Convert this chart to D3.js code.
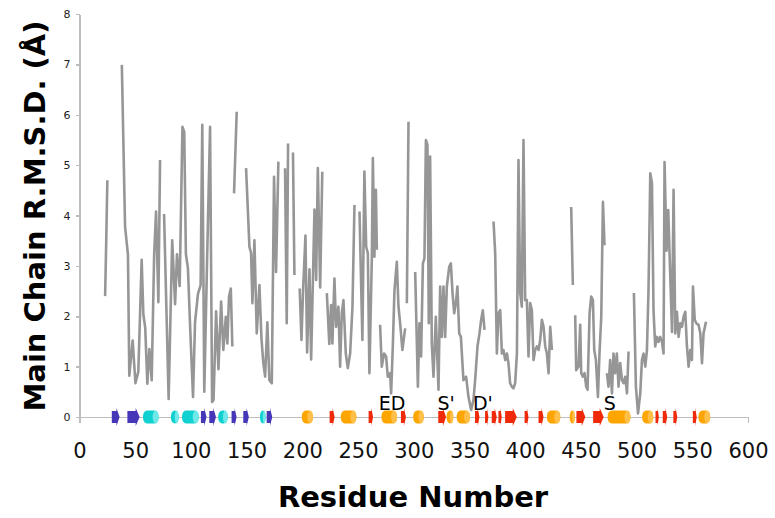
<!DOCTYPE html>
<head>
<meta charset="utf-8">
<script src="https://d3js.org/d3.v7.min.js"></script>
<style>
body{ margin:0; background:#fff; }
text{ font-family: "DejaVu Sans", Verdana, sans-serif; }
.yAxis text{ font-size:11px; fill:#222; }
.xAxis text{ font-size:21px; fill:#111; }
.axis path.domain, .axis .tick line{ stroke:#bdbdbd; stroke-width:1.5px; shape-rendering:crispEdges; }
text.axisTitle{ font-size:29px; font-weight:700; fill:#000; }
text.ssLabel{ font-size:19px; fill:#000; }
</style>
</head>
<body>
<script>
const width = 775, height = 518;
const margin = {top: 14, right: 27, bottom: 101, left: 79.5};

// residue number / main chain rmsd (null = gap in the trace)
const residues = [
  23,24,25,25.5,
  38,40.9,43.5,44.7,47.7,50.2,52.8,55.8,57.3,59,60.9,62.7,64.8,67,68.7,70.8,72.3,73,
  75.9,80,83.2,85.8,87.5,89.9,92.4,94,95.5,97.3,99.5,101.9,103.7,106.3,108.7,110.2,112,114.6,117.2,119,120.3,122.6,124.7,127.1,129.1,131.3,132.7,134.2,135.8,137.2,138,
  138.7,141.1,142,
  149.5,152.5,154,155.2,157,159.1,161.5,163.3,165,166.6,168.6,170.4,172.6,174.6,176.4,178.5,180,
  184.5,186,187.2,188,
  191.6,192.9,194,
  197.6,199.2,200.7,202.8,204.3,206.4,207.9,210.9,212.4,213.9,216,217.9,219,
  222,224.2,225.8,227,228.8,230.3,232.4,233.9,235.4,236.9,239,240.8,242.9,245,246.8,248,
  251.3,253.9,255.7,257.3,258.8,260.2,262.4,263.3,264.7,266,266.9,268,
  269.8,271.3,273.4,275.2,276.7,278.8,279.7,281.2,282.7,284.8,286.3,287.8,289.8,292.3,293,
  293.8,295.3,296,
  301.3,303.7,305.1,306.6,308.2,309.6,310.9,312.3,313.5,314.7,316.2,317.7,319.8,322.2,323.7,325.2,326.7,328.2,329.7,331.8,333.3,334.8,336.3,337.8,339.2,340.8,342.3,344.6,347,349.1,351.5,353.6,355.1,357.2,359,360.5,362,363.5,365,
  371.6,373.1,374.6,376,377.6,379.1,380.5,382.1,383.6,385,386.5,388.1,389.5,391,392.6,394,395.5,397,398.5,400,401.5,403,404.5,406,407.5,409,410.5,412,413.5,415,416.5,418,419.5,421,422.5,424,425,
  441.3,442.8,443.5,
  444.9,445.8,447.9,449.4,450.3,451.8,453.3,454.8,456,457.8,459.3,460.8,462,463.5,465.3,466.7,468.3,469.8,471.2,472,
  473.4,474.8,476.3,477.9,479.3,480.8,482.3,483.8,485.3,486.9,488.3,489.8,491.4,492.8,494,
  497.6,499.4,501.3,503.3,504.8,506.2,507.8,509.3,510.7,512.3,513.8,515.2,516.7,518.3,519.7,521.2,522.8,524.2,525.1,526.9,528.4,529.8,531.8,533.2,534.7,536.2,537.7,539.2,540.7,542.2,543.7,545.2,546.7,548.2,549.7,550.6,552.2,553.6,555.6,557.2,558.7,560.1,562.3
];
const rmsd = [
  2.4,3.5,4.7,null,
  6.99,3.78,3.22,0.82,1.52,0.67,0.9,3.12,2.04,1.77,0.66,1.35,0.73,3.22,4.08,2.28,5.1,null,
  4.03,0.36,3.51,2.24,3.23,2.6,5.76,5.66,3.23,2.96,1.68,0.4,1.88,2.44,2.62,5.8,0.5,3.2,5.76,0.3,0.34,2.1,0.95,2.29,1.33,1.99,1.46,2.39,2.55,1.4,null,
  4.44,6.06,null,
  4.94,3.38,3.25,2.26,3.51,1.66,2.62,1.56,1.07,0.8,1.88,0.73,0.67,4.77,2.88,5.07,null,
  4.94,1.86,5.43,null,
  5.25,2.82,null,
  2.55,1.53,2.53,3.6,1.28,2.93,1.14,4.12,2.72,4.94,2.57,4.87,null,
  2.46,1.45,2.22,1.46,2.75,1.79,2.19,1.0,2.06,2.32,1.26,0.97,1.26,2.19,4.21,null,
  4.08,1.53,4.87,3.38,3.25,0.87,3.18,5.14,3.18,4.51,3.32,null,
  1.83,1.0,1.26,1.2,0.8,0.87,0.47,1.4,2.52,3.08,2.19,1.86,1.33,1.76,null,
  2.26,5.86,null,
  2.88,0.6,1.86,1.2,3.05,3.15,5.5,5.4,1.86,5.17,1.46,0.8,1.99,0.54,2.59,1.59,2.59,1.59,2.59,2.98,3.05,2.46,2.06,2.26,2.59,1.66,1.59,0.73,0.8,0.4,0.14,0.34,0.73,1.4,1.66,1.93,2.12,1.73,null,
  3.88,3.25,1.26,2.06,2.12,1.26,1.33,1.13,1.26,1.07,0.67,0.6,0.57,0.67,1.26,5.1,2.46,2.19,5.5,2.32,2.32,1.2,2.26,2.12,1.13,1.33,1.4,1.33,1.53,1.93,1.79,1.4,1.26,0.87,1.79,1.33,null,
  4.17,2.62,null,
  2.02,0.93,1.0,1.83,0.87,0.8,0.87,0.6,0.54,2.06,2.39,2.32,1.33,1.13,0.4,1.26,1.99,4.27,3.41,null,
  0.87,0.6,1.13,0.47,1.26,0.87,1.26,0.6,1.07,0.73,0.67,0.8,0.47,1.3,null,
  2.46,0.6,0.07,0.47,1.13,1.26,1.0,1.33,2.52,4.84,4.64,2.12,1.4,1.59,1.49,1.59,1.49,1.26,5.06,3.3,4.11,3.1,1.69,4.51,1.66,2.09,1.59,1.86,1.79,1.99,2.09,1.4,1.0,1.33,1.13,2.59,1.93,1.86,1.83,1.66,1.07,1.66,1.89
];

// secondary structure elements along the baseline
const ssStart = [29,43,57,82,92,109,116.5,124.5,136.5,147,162,168,199.5,224.5,234.5,259.5,271,288.5,299.5,322,329.5,338.5,355,364,370,376,382,399.5,412,419.5,440,446,461,474,505,517,523.5,533,550.5,555.5];
const ssEnd   = [36,54,71,89,107,114,122.5,133,141,152,167,173,209.5,229,248.5,263.5,285,293,309,329,335.5,350.5,359,367,374.5,379,392.5,403,416.5,431.5,444.5,454,470.5,494.5,515,520,527.5,536.5,554,566];
const ssType  = ['strand1','strand1','helix1','helix1','helix1','strand1','strand1','helix1','strand1','strand1','helix1','strand1',
                 'helix2','strand2','helix2','strand2','helix2','strand2','helix2','strand2','helix2','helix2','strand2','strand2','strand2','strand2','strand2','strand2','strand2','helix2','helix2','strand2','strand2','helix2','helix2','strand2','strand2','strand2','strand2','helix2'];

const labelText    = ['ED', "S'", "D'", 'S'];
const labelResidue = [280.5, 329, 362, 476];

const xTicks = d3.range(0, 601, 50);
const yTicks = d3.range(0, 9, 1);

const ssColor = {strand1:'#4636b8', helix1:'#10d0d0', helix2:'#ffa500', strand2:'#f02a08'};
const ssLight = {helix1:'#6ee8e8', helix2:'#ffc04a'};

const svg = d3.select('body').append('svg')
   .attr('width', width)
   .attr('height', height);

const x = d3.scaleLinear()
   .domain([0, 600])
   .range([margin.left, width - margin.right]);

const y = d3.scaleLinear()
   .domain([0, 8])
   .range([height - margin.bottom, margin.top]);

svg.append('g')
   .attr('class', 'axis yAxis')
   .attr('transform', `translate(${margin.left},0)`)
   .call(d3.axisLeft(y).tickValues(yTicks).tickSizeInner(4).tickSizeOuter(0).tickPadding(5));

svg.append('g')
   .attr('class', 'axis xAxis')
   .attr('transform', `translate(0,${y(0)})`)
   .call(d3.axisBottom(x).tickValues(xTicks).tickSizeInner(0).tickSizeOuter(6).tickPadding(26));

const points = residues.map((r, i) => ({r: r, v: rmsd[i]}));

const line = d3.line()
   .defined(d => d.v != null)
   .x(d => x(d.r))
   .y(d => y(d.v));

svg.append('path')
   .datum(points)
   .attr('d', line)
   .attr('fill', 'none')
   .attr('stroke', '#969696')
   .attr('stroke-width', 2.6)
   .attr('stroke-linejoin', 'round');

// secondary structure
const ss = ssStart.map((s, i) => ({s: s, e: ssEnd[i], t: ssType[i]}));
const ssG = svg.append('g');
const y0 = y(0);

ss.forEach(d => {
   const x1 = x(d.s), x2 = x(d.e), w = x2 - x1;
   if (d.t.startsWith('helix')) {
      ssG.append('rect')
         .attr('x', x1).attr('y', y0 - 6.5)
         .attr('width', w).attr('height', 13)
         .attr('rx', Math.min(4, w / 2)).attr('ry', 6)
         .attr('fill', ssColor[d.t]);
      ssG.append('ellipse')
         .attr('cx', x2 - Math.min(3, w / 4)).attr('cy', y0)
         .attr('rx', Math.min(3, w / 4)).attr('ry', 6.5)
         .attr('fill', ssLight[d.t]);
   } else {
      const head = Math.min(4, w * 0.4);
      ssG.append('path')
         .attr('d', `M${x1},${y0 - 6}L${x2 - head},${y0 - 6}L${x2 - head},${y0 - 9}L${x2},${y0}` +
                    `L${x2 - head},${y0 + 9}L${x2 - head},${y0 + 6}L${x1},${y0 + 6}Z`)
         .attr('fill', ssColor[d.t]);
   }
});

svg.selectAll('text.ssLabel')
   .data(labelText)
   .enter()
   .append('text')
   .attr('class', 'ssLabel')
   .attr('x', (d, i) => x(labelResidue[i]))
   .attr('y', y0 - 7)
   .style('text-anchor', 'middle')
   .text(d => d);

svg.append('text')
   .attr('class', 'axisTitle')
   .attr('x', 413)
   .attr('y', 507)
   .style('text-anchor', 'middle')
   .text('Residue Number');

svg.append('text')
   .attr('class', 'axisTitle')
   .attr('transform', 'translate(45,216) rotate(-90)')
   .style('text-anchor', 'middle')
   .text('Main Chain R.M.S.D. (Å)');
</script>
</body>
